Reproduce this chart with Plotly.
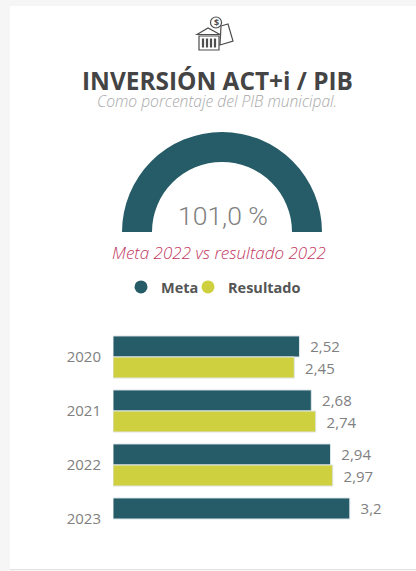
import plotly.graph_objects as go

years = ["2020", "2021", "2022", "2023"]
meta = [2.52, 2.68, 2.94, 3.2]
resultado = [2.45, 2.74, 2.97, None]
meta_labels = ["2,52", "2,68", "2,94", "3,2"]
resultado_labels = ["2,45", "2,74", "2,97", ""]
gauge_value = 101.0
gauge_text = "101,0 %"
TEAL = "#265c67"
LIME = "#cfd03f"
ICON = "#4d4d4d"
W, H = 416, 571

def px(x): return x / W
def py(y): return 1 - y / H

fig = go.Figure()
fig.add_trace(go.Pie(values=[gauge_value, gauge_value], sort=False, direction="clockwise", rotation=270,
                     hole=0.7, marker=dict(colors=[TEAL, "rgba(0,0,0,0)"], line=dict(width=0)),
                     textinfo="none", hoverinfo="skip", showlegend=False,
                     domain=dict(x=[px(122), px(322)], y=[py(332), py(132)])))
for name, vals, labels, col, leg in [("Meta", meta, meta_labels, TEAL, "legend"), ("Resultado", resultado, resultado_labels, LIME, "legend2")]:
    fig.add_trace(go.Bar(y=years, x=vals, name=name, orientation="h", marker=dict(color=col, line=dict(color="#dfe6ea", width=1)),
                         text=labels, texttemplate="\u00a0\u00a0%{text}", textposition="outside", cliponaxis=False, showlegend=False,
                         textfont=dict(family="Open Sans", size=15, color="#808080")))
    fig.add_trace(go.Scatter(x=[None], y=[None], mode="markers", name=name, legend=leg,
                             marker=dict(symbol="circle", size=13, color=col)))

def line(x0, y0, x1, y1, w=1.2):
    return dict(type="line", xref="paper", yref="paper", x0=px(x0), y0=py(y0), x1=px(x1), y1=py(y1),
                line=dict(color=ICON, width=w))

def poly(points, fill="white"):
    d = "M " + " L ".join(f"{px(a):.5f},{py(b):.5f}" for a, b in points) + " Z"
    return dict(type="path", xref="paper", yref="paper", path=d, fillcolor=fill, line=dict(color=ICON, width=1.2))

icon = [
    poly([(221, 26), (228, 24), (233, 41), (220, 45)]),
    dict(type="circle", xref="paper", yref="paper", x0=px(210.5), x1=px(221.5), y0=py(28), y1=py(17), fillcolor="white",
         line=dict(color=ICON, width=1.2)),
    poly([(197, 34.5), (208, 28), (220, 34.5)]),
    poly([(199, 36), (219, 36), (219, 50), (199, 50)]),
] + [line(x, 38.5, x, 47.5, 2.2) for x in (203, 207, 211, 215)]

legend_font = dict(family="Open Sans", size=14.5, color="#555555", weight=700)

fig.update_layout(
    width=W, height=H, margin=dict(l=0, r=0, t=0, b=0), paper_bgcolor="#f6f6f6", plot_bgcolor="rgba(0,0,0,0)",
    barmode="group", bargap=0.22, bargroupgap=0,
    xaxis=dict(domain=[px(113), 1], range=[0, 303 / 74], visible=False),
    yaxis=dict(domain=[py(546), py(330)], autorange="reversed", type="category", showgrid=False, showline=False, ticks="",
               ticklabelstandoff=11, tickfont=dict(family="Open Sans", size=15, color="#808080")),
    legend=dict(orientation="h", x=px(121), xanchor="left", y=py(287), yanchor="middle", font=legend_font, bgcolor="rgba(0,0,0,0)"),
    legend2=dict(orientation="h", x=px(188), xanchor="left", y=py(287), yanchor="middle", font=legend_font, bgcolor="rgba(0,0,0,0)"),
    shapes=[dict(type="rect", xref="paper", yref="paper", x0=px(10), x1=1.01, y0=py(569), y1=py(6), fillcolor="white",
                 line=dict(width=0), layer="below"),
            dict(type="line", xref="paper", yref="paper", x0=px(10), x1=1, y0=py(569.5), y1=py(569.5),
                 line=dict(color="#e2e2e2", width=1), layer="below")] + icon,
    annotations=[
        dict(text="$", x=px(216), y=py(22.5), xref="paper", yref="paper", showarrow=False, xanchor="center", yanchor="middle",
             font=dict(family="Open Sans", size=9, color=ICON, weight=700)),
        dict(text="INVERSIÓN ACT+i / PIB", x=px(217.5), y=py(80), xref="paper", yref="paper", showarrow=False, xanchor="center", yanchor="middle",
             font=dict(family="Open Sans", size=24.4, color="#444444", weight=700)),
        dict(text="<i>Como porcentaje del PIB municipal.</i>", x=px(217), y=py(101), xref="paper", yref="paper", showarrow=False, xanchor="center", yanchor="middle",
             font=dict(family="Open Sans", size=15.6, color="#a8a8a8", weight=300)),
        dict(text=gauge_text, x=px(223), y=py(215), xref="paper", yref="paper", showarrow=False, xanchor="center", yanchor="middle",
             font=dict(family="Roboto", size=26.5, color="#808080", weight=300)),
        dict(text="<i>Meta 2022 vs resultado 2022</i>", x=px(218.5), y=py(253), xref="paper", yref="paper", showarrow=False, xanchor="center", yanchor="middle",
             font=dict(family="Open Sans", size=17, color="#c2375f", weight=300)),
    ],
)
fig.write_html("out.html", config=dict(displayModeBar=False), post_script="document.body.style.margin='0';document.body.style.overflow='hidden';")
